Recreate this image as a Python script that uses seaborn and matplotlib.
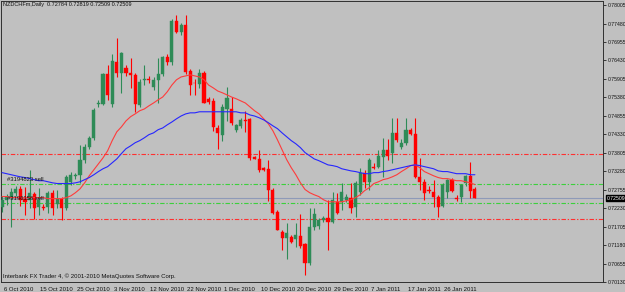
import numpy as np
import pandas as pd
import matplotlib
matplotlib.use("Agg")
import matplotlib.pyplot as plt
import matplotlib.transforms as mtransforms
import seaborn as sns

# ---------------- data ----------------
date_labels = ["6 Oct 2010", "15 Oct 2010", "25 Oct 2010", "3 Nov 2010", "12 Nov 2010",
               "22 Nov 2010", "1 Dec 2010", "10 Dec 2010", "20 Dec 2010", "29 Dec 2010",
               "7 Jan 2011", "17 Jan 2011", "26 Jan 2011"]
label_every = 8

opens = [.7227, .7245, .7253, .7267, .7278, .7250, .7247, .7264, .7227, .7227,
         .7227, .7267, .7235, .7250, .7224, .7298, .7314, .7318, .7361, .7397,
         .7423, .7520, .7520, .7605, .7520, .7639, .7608, .7622, .7608, .7602,
         .7517, .7588, .7590, .7568, .7588, .7605, .7653, .7639, .7755, .7724,
         .7744, .7613, .7580, .7575, .7607, .7534, .7528, .7451, .7430, .7505,
         .7505, .7446, .7457, .7475, .7477, .7369, .7363, .7338, .7335, .7276,
         .7213, .7156, .7139, .7142, .7136, .7145, .7120, .7068, .7168, .7171,
         .7190, .7196, .7185, .7241, .7241, .7247, .7253, .7227, .7270, .7324,
         .7298, .7341, .7341, .7369, .7389, .7380, .7437, .7398, .7409, .7446,
         .7434, .7312, .7298, .7275, .7270, .7256, .7230, .7270, .7304, .7252,
         .7256, .7295, .7315, .72784]
highs = [.7258, .7262, .7281, .7287, .7287, .7284, .7332, .7270, .7281, .7235,
         .7273, .7275, .7275, .7256, .7318, .7325, .7322, .7403, .7405, .7428,
         .7508, .7530, .7608, .7630, .7660, .7707, .7667, .7630, .7650, .7608,
         .7590, .7630, .7600, .7595, .7650, .7656, .7660, .7760, .7772, .7750,
         .7772, .7620, .7590, .7620, .7612, .7540, .7535, .7460, .7520, .7568,
         .7540, .7462, .7478, .7500, .7480, .7372, .7389, .7340, .7360, .7280,
         .7218, .7160, .7182, .7148, .7182, .7205, .7125, .7224, .7222, .7196,
         .7200, .7247, .7270, .7267, .7295, .7262, .7295, .7300, .7338, .7332,
         .7366, .7350, .7389, .7423, .7420, .7480, .7480, .7420, .7480, .7450,
         .7480, .7366, .7305, .7285, .7304, .7260, .7295, .7305, .7308, .7260,
         .7292, .7318, .7355, .72819]
lows = [.7213, .7232, .7168, .7258, .7230, .7204, .7224, .7193, .7204, .7218,
        .7210, .7204, .7224, .7190, .7218, .7290, .7305, .7295, .7352, .7392,
        .7418, .7512, .7515, .7530, .7510, .7596, .7551, .7600, .7565, .7497,
        .7510, .7574, .7580, .7560, .7522, .7600, .7630, .7630, .7720, .7715,
        .7605, .7545, .7545, .7565, .7522, .7520, .7441, .7392, .7415, .7470,
        .7460, .7440, .7450, .7440, .7360, .7362, .7327, .7330, .7243, .7205,
        .7160, .7105, .7077, .7125, .7113, .7110, .7034, .7060, .7162, .7165,
        .7185, .7105, .7182, .7205, .7219, .7240, .7210, .7199, .7261, .7281,
        .7275, .7335, .7338, .7312, .7360, .7352, .7410, .7390, .7403, .7430,
        .7310, .7275, .7247, .7265, .7227, .7199, .7227, .7252, .7270, .7242,
        .7241, .7285, .7253, .72509]
closes = [.7247, .7255, .7270, .7278, .7247, .7240, .7267, .7224, .7247, .7224,
          .7267, .7224, .7250, .7224, .7312, .7318, .7316, .7361, .7397, .7423,
          .7503, .7522, .7605, .7545, .7642, .7608, .7664, .7608, .7602, .7520,
          .7582, .7590, .7588, .7588, .7605, .7653, .7639, .7755, .7724, .7744,
          .7610, .7573, .7578, .7607, .7522, .7525, .7454, .7437, .7510, .7535,
          .7466, .7460, .7474, .7470, .7366, .7364, .7332, .7332, .7276, .7210,
          .7162, .7139, .7153, .7128, .7148, .7114, .7068, .7168, .7205, .7190,
          .7196, .7185, .7245, .7210, .7270, .7256, .7224, .7295, .7324, .7298,
          .7361, .7338, .7372, .7389, .7372, .7437, .7418, .7409, .7446, .7434,
          .7312, .7298, .7267, .7272, .7256, .7227, .7290, .7304, .7273, .7250,
          .7290, .7315, .7273, .72509]

ma_fast = [.7256, .7256, .7253, .7253, .7253, .7253, .7253, .7253, .7253, .7253,
           .7250, .7250, .7250, .7250, .7253, .7258, .7267, .7278, .7295, .7315,
           .7332, .7349, .7366, .7386, .7415, .7440, .7454, .7471, .7483, .7491,
           .7500, .7505, .7514, .7522, .7531, .7539, .7554, .7573, .7588, .7596,
           .7599, .7602, .7599, .7596, .7588, .7573, .7565, .7556, .7551, .7545,
           .7539, .7534, .7528, .7522, .7511, .7500, .7491, .7477, .7463, .7443,
           .7417, .7389, .7361, .7338, .7318, .7295, .7276, .7267, .7261, .7256,
           .7247, .7241, .7241, .7241, .7241, .7244, .7247, .7253, .7261, .7273,
           .7281, .7293, .7298, .7304, .7307, .7312, .7318, .7327, .7335, .7344,
           .7346, .7338, .7327, .7321, .7315, .7310, .7307, .7307, .7304, .7301,
           .7301, .7298, .7295, .7290]
ma_slow = [.7324, .7321, .7318, .7315, .7312, .7310, .7307, .7304, .7301, .7301,
           .7298, .7295, .7293, .7293, .7293, .7293, .7295, .7298, .7304, .7310,
           .7318, .7327, .7335, .7341, .7352, .7363, .7378, .7392, .7400, .7409,
           .7415, .7423, .7432, .7437, .7446, .7451, .7460, .7468, .7477, .7485,
           .7491, .7494, .7494, .7497, .7497, .7497, .7497, .7497, .7497, .7497,
           .7497, .7497, .7494, .7494, .7488, .7485, .7480, .7474, .7466, .7457,
           .7449, .7437, .7426, .7415, .7406, .7395, .7381, .7372, .7363, .7358,
           .7352, .7346, .7344, .7341, .7335, .7332, .7329, .7327, .7324, .7321,
           .7321, .7324, .7324, .7327, .7329, .7332, .7335, .7338, .7341, .7344,
           .7346, .7344, .7341, .7338, .7335, .7329, .7327, .7327, .7324, .7321,
           .7321, .7321, .7318, .7318]

red_levels = [0.7378, 0.7193]
green_levels = [0.7293, 0.7239]
last_price = 0.72509
order_labels = ["#3194823 sell", "#3196156 sell"]
y_ticks = [0.78005, 0.77480, 0.76955, 0.76430, 0.75905, 0.75380, 0.74855, 0.74330,
           0.73805, 0.73280, 0.72755, 0.72230, 0.71705, 0.71180, 0.70655, 0.70130]
title_text = "NZDCHFm,Daily  0.72784 0.72819 0.72509 0.72509"
footer_text = "Interbank FX Trader 4, \u00a9 2001-2010 MetaQuotes Software Corp."

# ---------------- drawing ----------------
sns.set_theme(style="white")
plt.rcParams['font.family'] = ['Liberation Sans', 'DejaVu Sans']

BG = "#C0C0C0"
TXT = "#101010"
fig = plt.figure(figsize=(6.25, 2.92), dpi=100, facecolor=BG)
ax = fig.add_axes([1 / 625, 10 / 292, 602 / 625, 281 / 292])
ax.set_facecolor(BG)

n = len(closes)
df = pd.DataFrame({"idx": np.arange(n), "open": opens, "high": highs,
                   "low": lows, "close": closes, "fast": ma_fast, "slow": ma_slow})
up = df["close"] >= df["open"]
GREEN = "#2E8B57"
RED = "#FF0000"
colors = np.where(up, GREEN, RED)

# wicks
ax.vlines(df["idx"], df["low"], df["high"], colors=colors, linewidth=0.8, zorder=3)
# bodies
body_bottom = np.minimum(df["open"], df["close"])
body_h = np.maximum(np.abs(df["close"] - df["open"]), 0.00012)
ax.bar(df["idx"], body_h, bottom=body_bottom, width=0.68, color=colors,
       edgecolor=colors, linewidth=0.3, zorder=4)

# moving averages
sns.lineplot(data=df, x="idx", y="fast", ax=ax, color="#FF3B3B", linewidth=0.8, zorder=5)
sns.lineplot(data=df, x="idx", y="slow", ax=ax, color="#2626FF", linewidth=0.8, zorder=5)

# order levels
dash = (0, (4.0, 1.6, 1.2, 1.6))
for lv in red_levels:
    ax.axhline(lv, color="#FF3030", linewidth=0.8, linestyle=dash, zorder=2)
for lv in green_levels:
    ax.axhline(lv, color="#3CD03C", linewidth=0.8, linestyle=dash, zorder=2)
ax.axhline(last_price, color="#8E9AB8", linewidth=0.8, zorder=2)

for lv, lab in zip(green_levels, order_labels):
    ax.text(1.0, lv + 0.0003, lab, fontsize=4.2, color=TXT,
            ha="left", va="bottom", zorder=6)

# axes
ax.set_xlim(-0.22, 130.9)
ax.set_ylim(0.70144, 0.7812)
ax.set_xlabel("")
ax.set_ylabel("")

ax.set_xticks(np.arange(len(date_labels)) * label_every)
ax.set_xticklabels(date_labels, ha="left", fontsize=4.3, color=TXT)
ax.tick_params(axis="x", direction="out", length=3, width=0.6, pad=0.5, color="#202020")
offset = mtransforms.ScaledTranslation(1.5 / 100, 0, fig.dpi_scale_trans)
for lab in ax.get_xticklabels():
    lab.set_transform(lab.get_transform() + offset)

ax.yaxis.tick_right()
ax.set_yticks(y_ticks)
ax.set_yticklabels([f"{v:.5f}" for v in y_ticks], fontsize=3.7, color=TXT)
ax.tick_params(axis="y", direction="out", length=2.5, width=0.6, pad=0.6, color="#202020")

for sp in ax.spines.values():
    sp.set_color("#303030")
    sp.set_linewidth(0.7)
    sp.set_visible(True)

# current price box on the right axis
ax.annotate(f"{last_price:.5f}", xy=(1.0, last_price), xycoords=("axes fraction", "data"),
            xytext=(2.4, 0), textcoords="offset points", fontsize=3.7, color="white",
            ha="left", va="center", zorder=10, annotation_clip=False,
            bbox=dict(boxstyle="square,pad=0.12", fc="black", ec="black"))

ax.text(0.004, 0.995, title_text, transform=ax.transAxes, fontsize=4.0, color=TXT,
        ha="left", va="top")
ax.text(0.004, 0.012, footer_text, transform=ax.transAxes, fontsize=4.3, color=TXT,
        ha="left", va="bottom")

fig.savefig("out.png", dpi=100, facecolor=BG)
